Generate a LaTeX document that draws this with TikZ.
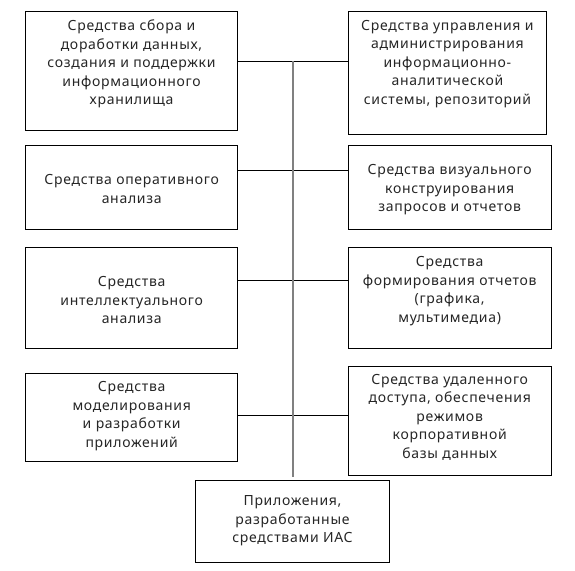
\documentclass[tikz,border=0pt]{standalone}
\usepackage{fontspec}
\setmainfont[LetterSpace=5]{Noto Sans}
\begin{document}
\begin{tikzpicture}[x=1pt,y=-1pt,
  box/.style={draw=black,line width=1pt,fill=white,inner sep=0pt},
  txt/.style={align=center,font=\fontsize{14}{18.5}\selectfont,text=black!85,inner sep=0pt},
  link/.style={draw=black,line width=0.9pt},
  trunk/.style={draw=black!50,line width=1.6pt}]
\useasboundingbox (0,0) rectangle (575,570);
% boxes
\node[box,minimum width=211.6pt,minimum height=119pt] (b1) at (131.5,71.2) {};
\node[box,minimum width=198.7pt,minimum height=122.3pt] (b2) at (447.4,72.9) {};
\node[box,minimum width=212pt,minimum height=83.7pt] (b3) at (131.7,187.2) {};
\node[box,minimum width=202.7pt,minimum height=83.3pt] (b4) at (449.7,187.4) {};
\node[box,minimum width=212pt,minimum height=101pt] (b5) at (131.7,297.8) {};
\node[box,minimum width=202.7pt,minimum height=101pt] (b6) at (449.7,297.8) {};
\node[box,minimum width=212pt,minimum height=87.7pt] (b7) at (131.7,417.2) {};
\node[box,minimum width=202.7pt,minimum height=109pt] (b8) at (449.7,420.5) {};
\node[box,minimum width=193.6pt,minimum height=82.3pt] (b9) at (292.5,521.2) {};
% texts
\node[txt] (t1) at (131.5,64) {Средства сбора и\\доработки данных,\\создания и поддержки\\информационного\\хранилища};
\node[txt] (t2) at (447.4,64) {Средства управления и\\администрирования\\информационно-\\аналитической\\системы, репозиторий};
\node[txt] (t3) at (131.7,189) {Средства оперативного\\анализа};
\node[txt] (t4) at (449.7,190) {Средства визуального\\конструирования\\запросов и отчетов};
\node[txt] (t5) at (131.7,300) {Средства\\интеллектуального\\анализа};
\node[txt] (t6) at (449.7,291) {Средства\\формирования отчетов\\(графика,\\мультимедиа)};
\node[txt] (t7) at (131.7,416) {Средства\\моделирования\\и разработки\\приложений};
\node[txt] (t8) at (449.7,417) {Средства удаленного\\доступа, обеспечения\\режимов\\корпоративной\\базы данных};
\node[txt] (t9) at (292.5,521) {Приложения,\\разработанные\\средствами ИАС};
% connectors
\coordinate (vtop) at (292.7,61);
\coordinate (vbot) at (292.7,477.3);
\coordinate (h2) at (292.7,170.3);
\coordinate (h3) at (292.7,280.3);
\coordinate (h4) at (292.7,415);
\draw[link] (b1.east |- vtop) -- (b2.west |- vtop);
\draw[link] (b3.east |- h2) -- (b4.west |- h2);
\draw[link] (b5.east |- h3) -- (b6.west |- h3);
\draw[link] (b7.east |- h4) -- (b8.west |- h4);
\draw[trunk] (vtop) -- (vbot);
\end{tikzpicture}
\end{document}
